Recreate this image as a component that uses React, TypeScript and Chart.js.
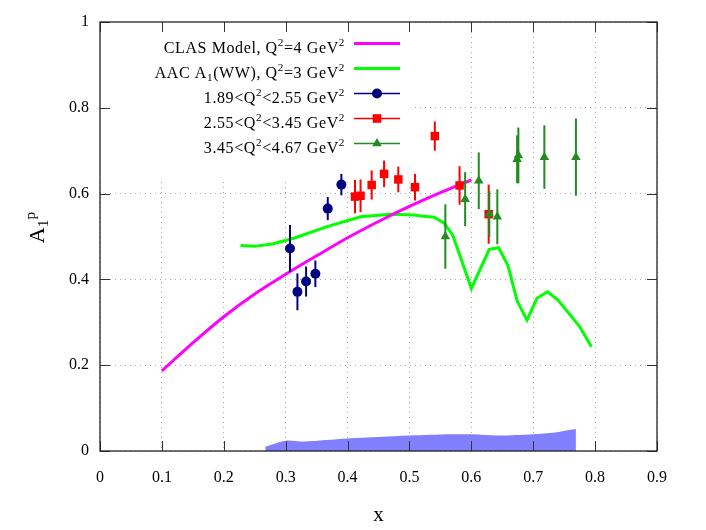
import { useEffect, useRef } from "react"
import { Chart, registerables } from "chart.js"

Chart.register(...registerables)

const FONT = "'Liberation Serif', serif"

// axis ticks
const xTicks = [0, 0.1, 0.2, 0.3, 0.4, 0.5, 0.6, 0.7, 0.8, 0.9]
const yTicks = [0, 0.2, 0.4, 0.6, 0.8, 1]

// CLAS model, Q2 = 4 GeV2
const clasX = [0.1, 0.15, 0.2, 0.25, 0.3, 0.35, 0.4, 0.45, 0.5, 0.55, 0.6]
const clasY = [0.187, 0.252, 0.313, 0.366, 0.412, 0.455, 0.497, 0.535, 0.57, 0.602, 0.632]

// AAC A1(WW), Q2 = 3 GeV2
const aacX = [0.227, 0.25, 0.28, 0.313, 0.367, 0.421, 0.47, 0.508, 0.519, 0.54, 0.556, 0.57, 0.586, 0.6, 0.629, 0.644, 0.659, 0.674, 0.69, 0.706, 0.723, 0.74, 0.775, 0.794]
const aacY = [0.479, 0.477, 0.483, 0.496, 0.523, 0.546, 0.552, 0.55, 0.548, 0.545, 0.531, 0.503, 0.437, 0.379, 0.47, 0.474, 0.433, 0.35, 0.305, 0.356, 0.371, 0.352, 0.29, 0.243]

// 1.89 < Q2 < 2.55
const q1X = [0.307, 0.319, 0.333, 0.348, 0.368, 0.39]
const q1Y = [0.472, 0.371, 0.395, 0.413, 0.565, 0.621]
const q1Err = [0.055, 0.043, 0.035, 0.031, 0.027, 0.025]

// 2.55 < Q2 < 3.45
const q2X = [0.412, 0.421, 0.439, 0.459, 0.482, 0.509, 0.541, 0.581, 0.628]
const q2Y = [0.593, 0.595, 0.62, 0.646, 0.633, 0.615, 0.734, 0.619, 0.552]
const q2Err = [0.039, 0.038, 0.034, 0.031, 0.03, 0.031, 0.034, 0.045, 0.069]

// 3.45 < Q2 < 4.67
const q3X = [0.558, 0.59, 0.612, 0.629, 0.642, 0.674, 0.676, 0.718, 0.769]
const q3Y = [0.5, 0.587, 0.63, 0.553, 0.546, 0.68, 0.689, 0.685, 0.685]
const q3Err = [0.075, 0.063, 0.066, 0.054, 0.064, 0.056, 0.065, 0.074, 0.09]

// systematic error band
const sysX = [0.267, 0.3, 0.33, 0.4, 0.5, 0.567, 0.6, 0.643, 0.7, 0.735, 0.751, 0.769]
const sysY = [0.01, 0.024, 0.022, 0.029, 0.036, 0.039, 0.039, 0.036, 0.039, 0.043, 0.047, 0.051]

type Seg = { t: string; s?: "sup" | "sub" }
const legendLabels: Seg[][] = [
  [{ t: "CLAS Model, Q" }, { t: "2", s: "sup" }, { t: "=4 GeV" }, { t: "2", s: "sup" }],
  [{ t: "AAC A" }, { t: "1", s: "sub" }, { t: "(WW), Q" }, { t: "2", s: "sup" }, { t: "=3 GeV" }, { t: "2", s: "sup" }],
  [{ t: "1.89<Q" }, { t: "2", s: "sup" }, { t: "<2.55 GeV" }, { t: "2", s: "sup" }],
  [{ t: "2.55<Q" }, { t: "2", s: "sup" }, { t: "<3.45 GeV" }, { t: "2", s: "sup" }],
  [{ t: "3.45<Q" }, { t: "2", s: "sup" }, { t: "<4.67 GeV" }, { t: "2", s: "sup" }],
]
const yTitle: Seg[] = [{ t: "A" }, { t: "1", s: "sub" }, { t: "p", s: "sup" }]

const BLUE = "#000080"
const RED = "#ff0000"
const DKGREEN = "#228b22"
const legendStyles = [
  { color: "#ff00ff", width: 3, marker: "" },
  { color: "#00ff00", width: 3, marker: "" },
  { color: BLUE, width: 1.5, marker: "circle" },
  { color: RED, width: 1.5, marker: "rect" },
  { color: DKGREEN, width: 1.5, marker: "triangle" },
]

const pts = (xs: number[], ys: number[]) => xs.map((x, i) => ({ x, y: ys[i] }))

function richWidth(ctx: CanvasRenderingContext2D, segs: Seg[], size: number) {
  let w = 0
  for (const seg of segs) {
    ctx.font = `${seg.s ? size * 0.7 : size}px ${FONT}`
    w += ctx.measureText(seg.t).width
  }
  return w
}

function drawRich(ctx: CanvasRenderingContext2D, segs: Seg[], x: number, baseline: number, size: number) {
  ctx.textBaseline = "alphabetic"
  ctx.textAlign = "left"
  for (const seg of segs) {
    const sz = seg.s ? size * 0.7 : size
    ctx.font = `${sz}px ${FONT}`
    const dy = seg.s === "sup" ? -size * 0.42 : seg.s === "sub" ? size * 0.2 : 0
    ctx.fillText(seg.t, x, baseline + dy)
    x += ctx.measureText(seg.t).width
  }
}

function drawMarker(ctx: CanvasRenderingContext2D, kind: string, x: number, y: number) {
  ctx.beginPath()
  if (kind === "circle") ctx.arc(x, y, 5, 0, Math.PI * 2)
  else if (kind === "rect") ctx.rect(x - 4.3, y - 4.3, 8.6, 8.6)
  else if (kind === "triangle") {
    ctx.moveTo(x, y - 5.5)
    ctx.lineTo(x + 4.8, y + 2.8)
    ctx.lineTo(x - 4.8, y + 2.8)
    ctx.closePath()
  }
  ctx.fill()
}

// white key box hides the grid behind the legend
const keyMask = {
  id: "keyMask",
  beforeDatasetsDraw(chart: any) {
    const { ctx, chartArea, scales } = chart
    const right = scales.x.getPixelForValue(0.502)
    const bottom = scales.y.getPixelForValue(0.632)
    ctx.save()
    ctx.fillStyle = "#ffffff"
    ctx.fillRect(chartArea.left, chartArea.top, right - chartArea.left, bottom - chartArea.top)
    ctx.restore()
  },
}

const errorBars = {
  id: "errorBars",
  beforeDatasetDraw(chart: any, args: any) {
    const ds = chart.data.datasets[args.index]
    if (!ds.yErr) return
    const { ctx, scales } = chart
    ctx.save()
    ctx.strokeStyle = ds.borderColor
    ctx.lineWidth = 2
    ds.data.forEach((p: { x: number; y: number }, i: number) => {
      const x = scales.x.getPixelForValue(p.x)
      ctx.beginPath()
      ctx.moveTo(x, scales.y.getPixelForValue(p.y - ds.yErr[i]))
      ctx.lineTo(x, scales.y.getPixelForValue(p.y + ds.yErr[i]))
      ctx.stroke()
    })
    ctx.restore()
  },
}

const frameAndKey = {
  id: "frameAndKey",
  afterDatasetsDraw(chart: any) {
    const { ctx, chartArea: a, scales } = chart
    ctx.save()
    // inward ticks on all four sides
    ctx.strokeStyle = "#333333"
    ctx.lineWidth = 1
    ctx.beginPath()
    for (const v of xTicks) {
      const x = Math.round(scales.x.getPixelForValue(v)) + 0.5
      ctx.moveTo(x, a.bottom)
      ctx.lineTo(x, a.bottom - 10)
      ctx.moveTo(x, a.top)
      ctx.lineTo(x, a.top + 10)
    }
    for (const v of yTicks) {
      const y = Math.round(scales.y.getPixelForValue(v)) + 0.5
      ctx.moveTo(a.left, y)
      ctx.lineTo(a.left + 10, y)
      ctx.moveTo(a.right, y)
      ctx.lineTo(a.right - 10, y)
    }
    ctx.stroke()
    ctx.strokeStyle = "#222222"
    ctx.lineWidth = 1.3
    ctx.strokeRect(a.left, a.top, a.right - a.left, a.bottom - a.top)

    // key
    const textRight = a.left + 245
    const x0 = a.left + 254
    const x1 = a.left + 300
    ;(ctx as any).letterSpacing = "0.6px"
    legendLabels.forEach((segs, i) => {
      const y = a.top + 21.5 + i * 25
      const st = legendStyles[i]
      ctx.fillStyle = "#000000"
      drawRich(ctx, segs, textRight - richWidth(ctx, segs, 16), y + 9, 16)
      ctx.strokeStyle = st.color
      ctx.lineWidth = st.width
      ctx.beginPath()
      ctx.moveTo(x0, y)
      ctx.lineTo(x1, y)
      ctx.stroke()
      if (st.marker) {
        ctx.fillStyle = st.color
        drawMarker(ctx, st.marker, (x0 + x1) / 2, y)
      }
    })
    ;(ctx as any).letterSpacing = "0px"

    // y axis title, rotated
    ctx.translate(44, (a.top + a.bottom) / 2 - 9)
    ctx.rotate(-Math.PI / 2)
    ctx.fillStyle = "#000000"
    const w = richWidth(ctx, yTitle, 22)
    drawRich(ctx, yTitle, -w / 2, 0, 22)
    ctx.restore()
  },
}

export default function App() {
  const canvasRef = useRef<HTMLCanvasElement>(null)
  const chartRef = useRef<Chart | null>(null)

  useEffect(() => {
    if (!canvasRef.current) return
    const tickFont = { family: FONT, size: 16 }

    chartRef.current = new Chart(canvasRef.current, {
      type: "scatter",
      data: {
        datasets: [
          {
            label: "3.45<Q2<4.67 GeV2",
            data: pts(q3X, q3Y),
            yErr: q3Err,
            borderColor: DKGREEN,
            backgroundColor: DKGREEN,
            pointStyle: "triangle",
            pointRadius: 5.5,
            pointBorderWidth: 0,
            showLine: false,
            order: 1,
          } as any,
          {
            label: "2.55<Q2<3.45 GeV2",
            data: pts(q2X, q2Y),
            yErr: q2Err,
            borderColor: RED,
            backgroundColor: RED,
            pointStyle: "rect",
            pointRadius: 6,
            pointBorderWidth: 0,
            showLine: false,
            order: 2,
          },
          {
            label: "1.89<Q2<2.55 GeV2",
            data: pts(q1X, q1Y),
            yErr: q1Err,
            borderColor: BLUE,
            backgroundColor: BLUE,
            pointStyle: "circle",
            pointRadius: 5,
            pointBorderWidth: 0,
            showLine: false,
            order: 3,
          },
          {
            label: "CLAS Model, Q2=4 GeV2",
            data: pts(clasX, clasY),
            borderColor: "#ff00ff",
            borderWidth: 3,
            pointRadius: 0,
            showLine: true,
            tension: 0.3,
            order: 4,
          },
          {
            label: "AAC A1(WW), Q2=3 GeV2",
            data: pts(aacX, aacY),
            borderColor: "#00ff00",
            borderWidth: 3,
            pointRadius: 0,
            showLine: true,
            tension: 0,
            order: 5,
          },
          {
            label: "systematic error",
            data: pts(sysX, sysY),
            borderWidth: 0,
            borderColor: "rgba(0,0,0,0)",
            backgroundColor: "#8080ff",
            pointRadius: 0,
            showLine: true,
            fill: "origin",
            tension: 0.3,
            order: 6,
          },
        ],
      },
      options: {
        responsive: false,
        animation: false,
        layout: { padding: { left: 0, top: 22, right: 49, bottom: 0 } },
        plugins: {
          legend: { display: false },
          tooltip: { enabled: false },
        },
        scales: {
          x: {
            type: "linear",
            min: 0,
            max: 0.9,
            afterBuildTicks: (s: any) => {
              s.ticks = xTicks.map((value) => ({ value }))
            },
            afterFit: (s: any) => {
              s.height = 79
            },
            ticks: {
              font: tickFont,
              color: "#000000",
              padding: 17,
              maxRotation: 0,
              callback: (v: any) => String(v),
            },
            grid: { color: "#a8a8a8", lineWidth: 1, drawTicks: false },
            border: { display: false, dash: [1, 4] },
            title: {
              display: true,
              text: "x",
              font: { family: FONT, size: 21 },
              color: "#000000",
              padding: { top: 0, bottom: 2 },
            },
          },
          y: {
            type: "linear",
            min: 0,
            max: 1,
            afterBuildTicks: (s: any) => {
              s.ticks = yTicks.map((value) => ({ value }))
            },
            afterFit: (s: any) => {
              s.width = 100
            },
            ticks: {
              font: tickFont,
              color: "#000000",
              padding: 11,
              callback: (v: any) => String(v),
            },
            grid: { color: "#a8a8a8", lineWidth: 1, drawTicks: false },
            border: { display: false, dash: [1, 4] },
          },
        },
      },
      plugins: [keyMask, errorBars, frameAndKey],
    })

    return () => {
      chartRef.current?.destroy()
      chartRef.current = null
    }
  }, [])

  return (
    <div style={{ position: "absolute", left: 0, top: 0, width: 706, height: 530, background: "#ffffff" }}>
      <canvas ref={canvasRef} width={706} height={530}></canvas>
    </div>
  )
}
